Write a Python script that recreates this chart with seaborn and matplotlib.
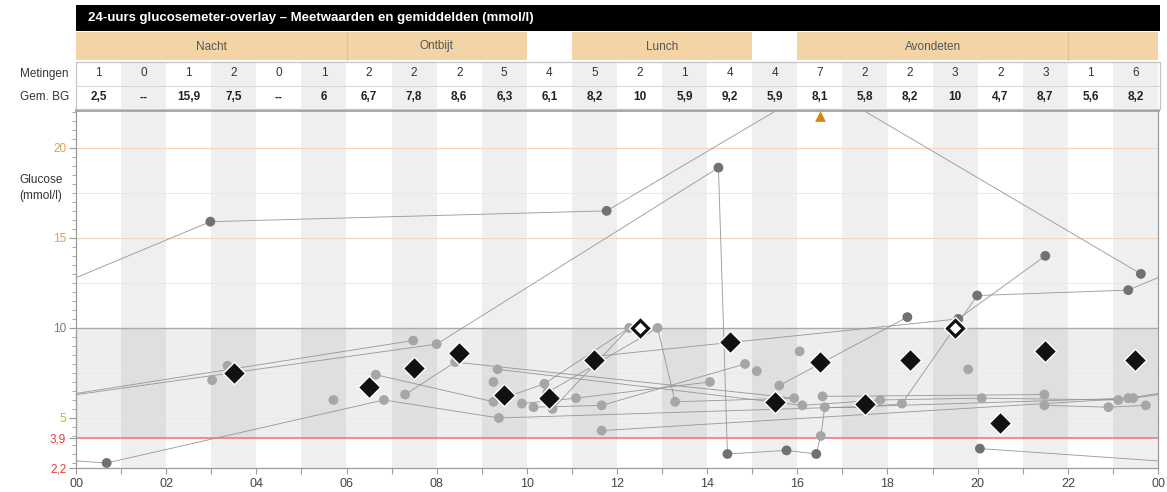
import matplotlib
matplotlib.use("Agg")
import matplotlib.pyplot as plt
from matplotlib.patches import Rectangle
from matplotlib.ticker import MultipleLocator, FixedLocator
import seaborn as sns
import pandas as pd

# ---------------------------------------------------------------- data
# individual meter readings: time of day (h) and glucose (mmol/l)
reading_hours = [0.68, 2.98, 3.02, 3.36, 5.71, 6.65, 6.83, 7.30, 7.48, 8.00,
                 8.41, 9.26, 9.26, 9.35, 9.38, 9.89, 10.15, 10.39, 10.45, 10.57,
                 11.09, 11.45, 11.66, 11.66, 11.77, 12.27, 12.90, 13.29, 14.06, 14.25,
                 14.45, 14.84, 15.10, 15.60, 15.76, 15.93, 16.05, 16.11, 16.42, 16.50,
                 16.52, 16.56, 16.61, 17.50, 17.84, 18.32, 18.44, 19.57, 19.79, 19.99,
                 20.05, 20.09, 21.48, 21.48, 21.50, 22.90, 23.12, 23.34, 23.34, 23.45,
                 23.62, 23.73]
reading_values = [2.5, 15.9, 7.1, 7.9, 6.0, 7.4, 6.0, 6.3, 9.3, 9.1,
                  8.1, 7.0, 5.9, 7.7, 5.0, 5.8, 5.6, 6.9, 6.4, 5.5,
                  6.1, 8.4, 5.7, 4.3, 16.5, 10.0, 10.0, 5.9, 7.0, 18.9,
                  3.0, 8.0, 7.6, 6.8, 3.2, 6.1, 8.7, 5.7, 3.0, 23.5,
                  4.0, 6.2, 5.6, 5.6, 6.0, 5.8, 10.6, 10.5, 7.7, 11.8,
                  3.3, 6.1, 6.3, 5.7, 14.0, 5.6, 6.0, 12.1, 6.1, 6.1,
                  13.0, 5.7]

# consecutive readings that are joined: (from, to, next day?)
reading_links = [(50, 0, 1), (0, 6, 0), (6, 14, 0), (5, 12, 0), (57, 1, 1),
                 (1, 24, 0), (24, 39, 0), (39, 60, 0), (58, 8, 1), (59, 9, 1),
                 (9, 29, 0), (29, 30, 0), (30, 34, 0), (34, 38, 0), (38, 40, 0),
                 (40, 42, 0), (42, 43, 0), (43, 45, 0), (45, 49, 0), (49, 57, 0),
                 (21, 47, 0), (47, 54, 0), (33, 46, 0), (23, 59, 0), (26, 27, 0),
                 (7, 10, 0), (10, 35, 0), (13, 37, 0), (12, 17, 0), (17, 25, 0),
                 (19, 25, 0), (18, 26, 0), (27, 35, 0), (20, 28, 0), (22, 31, 0),
                 (15, 20, 0), (16, 22, 0), (37, 44, 0), (44, 51, 0), (51, 56, 0),
                 (14, 58, 0), (41, 52, 0), (53, 55, 0), (55, 61, 0)]

# hourly summary table
meting_counts = [1, 0, 1, 2, 0, 1, 2, 2, 2, 5, 4, 5, 2, 1, 4, 4, 7, 2, 2, 3, 2, 3, 1, 6]
avg_bg = [2.5, None, 15.9, 7.5, None, 6.0, 6.7, 7.8, 8.6, 6.3, 6.1, 8.2,
          10.0, 5.9, 9.2, 5.9, 8.1, 5.8, 8.2, 10.0, 4.7, 8.7, 5.6, 8.2]

# meal periods (start hour, end hour)
meal_names = ["Nacht", "Ontbijt", "", "Lunch", "", "Avondeten", ""]
meal_start = [0, 6, 10, 11, 15, 16, 22]
meal_end = [6, 10, 11, 15, 16, 22, 24]
meal_shaded = [True, True, False, True, False, True, True]

hour_ticks = [0, 2, 4, 6, 8, 10, 12, 14, 16, 18, 20, 22, 24]
hour_tick_labels = ["00", "02", "04", "06", "08", "10", "12", "14", "16",
                    "18", "20", "22", "00"]
glucose_ticks = [2.2, 3.9, 5, 10, 15, 20]
glucose_tick_labels = ["2,2", "3,9", "5", "10", "15", "20"]

Y_MIN, Y_MAX = 2.2, 22.1
TARGET_LOW, TARGET_HIGH = 3.9, 10.0

# ---------------------------------------------------------------- style
sns.set_theme(style="white")
plt.rcParams["font.family"] = ["Liberation Sans", "DejaVu Sans"]

W, H = 1167, 492
fig = plt.figure(figsize=(W / 100, H / 100), dpi=100)
fig.patch.set_facecolor("white")


def fx(px):
    return px / W


def fy(py):
    return 1 - py / H


LEFT, RIGHT = 76, 1158
ax = fig.add_axes([fx(LEFT), fy(468.4), fx(RIGHT) - fx(LEFT), fy(110) - fy(468.4)])
ax.set_xlim(0, 24)
ax.set_ylim(Y_MIN, Y_MAX)
ax.set_facecolor("white")

# alternating hour columns
for hr in range(1, 24, 2):
    ax.axvspan(hr, hr + 1, color="#efeff0", lw=0, zorder=0)
# target range band
ax.axhspan(TARGET_LOW, TARGET_HIGH, color="black", alpha=0.065, lw=0, zorder=0.5)
for g in [5, 7.5, 12.5, 17.5]:
    ax.axhline(g, color="#e6e6e6", lw=0.6, zorder=0.6)
for g in [15, 20]:
    ax.axhline(g, color="#f6d4bc", lw=0.8, zorder=0.6)
ax.axhline(TARGET_HIGH, color="#a9a9a9", lw=1.0, zorder=1)
ax.axhline(TARGET_LOW, color="#f07a7a", lw=1.2, zorder=1)

# connecting lines between readings (wrapping over midnight)
for a, b, nxt in reading_links:
    x0, y0 = reading_hours[a], reading_values[a]
    x1, y1 = reading_hours[b] + 24 * nxt, reading_values[b]
    for shift in ([0, -24] if nxt else [0]):
        ax.plot([x0 + shift, x1 + shift], [y0, y1], color="#939393", lw=0.65,
                alpha=0.9, zorder=2, solid_capstyle="round")

# reading dots
df = pd.DataFrame({"hour": reading_hours, "glucose": reading_values})
df["status"] = ["binnen" if TARGET_LOW <= v <= TARGET_HIGH else "buiten"
                for v in df["glucose"]]
sns.scatterplot(data=df, x="hour", y="glucose", hue="status",
                palette={"binnen": "#a6a6a8", "buiten": "#707075"},
                s=50, linewidth=0, legend=False, zorder=3, ax=ax)

# readings above the chart range
above = df[df["glucose"] > Y_MAX]
ax.scatter(above["hour"], [Y_MAX - 0.35] * len(above), marker="^", s=60,
           color="#d4860e", linewidth=0, zorder=6, clip_on=False)

# hourly averages (diamonds) for hours with two or more readings
avg_rows = [(h + 0.5, v) for h, (n, v) in enumerate(zip(meting_counts, avg_bg))
            if n >= 2 and v is not None]
avg_df = pd.DataFrame(avg_rows, columns=["hour", "glucose"])
sns.scatterplot(data=avg_df, x="hour", y="glucose", marker="D", s=130,
                color="#111111", edgecolor="white", linewidth=1.0,
                legend=False, zorder=5, ax=ax)
high_avg = avg_df[avg_df["glucose"] >= TARGET_HIGH]
ax.scatter(high_avg["hour"], high_avg["glucose"], marker="D", s=34,
           color="white", linewidth=0, zorder=6)

ax.set_xlabel("")
ax.set_ylabel("")

# axes, ticks
for side in ["left", "bottom", "right"]:
    ax.spines[side].set_color("#9c9c9c")
    ax.spines[side].set_linewidth(0.9)
ax.spines["top"].set_color("#a2a2a2")
ax.spines["top"].set_linewidth(2.0)

ax.set_xticks(hour_ticks)
ax.set_xticklabels(hour_tick_labels)
ax.xaxis.set_minor_locator(FixedLocator(list(range(1, 24, 2))))
ax.tick_params(axis="x", which="both", direction="out", bottom=True,
               color="#9c9c9c", length=4, width=0.8)
ax.tick_params(axis="x", which="major", labelsize=9, labelcolor="#444444", pad=3)

ax.set_yticks(glucose_ticks)
ax.set_yticklabels(glucose_tick_labels)
ax.yaxis.set_minor_locator(MultipleLocator(0.5))
ax.tick_params(axis="y", which="major", direction="out", left=True,
               color="#9c9c9c", length=5, width=0.8, labelsize=8.5, pad=2)
ax.tick_params(axis="y", which="minor", direction="out", left=True,
               color="#a8a8a8", length=3, width=0.7)
label_colors = {"2,2": "#e23b3b", "3,9": "#e23b3b", "5": "#d9a441",
                "10": "#777777", "15": "#d9a441", "20": "#d9a441"}
for lab in ax.get_yticklabels():
    lab.set_color(label_colors.get(lab.get_text(), "#777777"))

fig.text(fx(41), fy(188), "Glucose\n(mmol/l)", ha="center", va="center",
         fontsize=8.5, color="#333333", linespacing=1.35)

# ---------------------------------------------------------------- header
hdr = fig.add_axes([fx(LEFT), fy(109), fx(RIGHT) - fx(LEFT), fy(0) - fy(109)])
hdr.set_xlim(0, 24)
hdr.set_ylim(109, 0)
hdr.axis("off")

hdr.add_patch(Rectangle((0, 5), 24.05, 25.5, color="black", lw=0, clip_on=False))
hdr.text(0.27, 18, "24-uurs glucosemeter-overlay \u2013 Meetwaarden en gemiddelden (mmol/l)",
         color="white", fontsize=9.5, fontweight="bold", va="center", ha="left")

for name, s, e, shaded in zip(meal_names, meal_start, meal_end, meal_shaded):
    if shaded:
        hdr.add_patch(Rectangle((s, 32), e - s, 28, facecolor="#f3d4a6",
                                lw=0, clip_on=False))
    if name:
        hdr.text((s + e) / 2, 46.5, name, ha="center", va="center",
                 fontsize=8.5, color="#555555")
# separators between adjacent meal blocks
for s, shaded, prev in zip(meal_start[1:], meal_shaded[1:], meal_shaded[:-1]):
    if shaded and prev:
        hdr.plot([s, s], [32, 60], color="#e6c48f", lw=0.9, clip_on=False)

for h in range(24):
    fill = "#efefef" if h % 2 else "white"
    hdr.add_patch(Rectangle((h, 62), 1, 46, facecolor=fill, lw=0, clip_on=False))
    hdr.text(h + 0.5, 73.5, str(meting_counts[h]), ha="center", va="center",
             fontsize=8.5, color="#333333")
    v = avg_bg[h]
    txt = "--" if v is None else f"{v:g}".replace(".", ",")
    hdr.text(h + 0.5, 97.5, txt, ha="center", va="center", fontsize=8.5,
             fontweight="bold", color="#222222")

hdr.add_patch(Rectangle((0, 61.5), 24.05, 47, fill=False, edgecolor="#c4c4c4",
                        lw=0.9, clip_on=False))
hdr.plot([0, 24.05], [85.5, 85.5], color="#d6d6d6", lw=0.7, clip_on=False)
hdr.text(-0.16, 73.5, "Metingen", ha="right", va="center", fontsize=8.5,
         color="#333333", clip_on=False)
hdr.text(-0.16, 97.5, "Gem. BG", ha="right", va="center", fontsize=8.5,
         color="#333333", clip_on=False)

fig.savefig("out.png", dpi=100, facecolor="white")
